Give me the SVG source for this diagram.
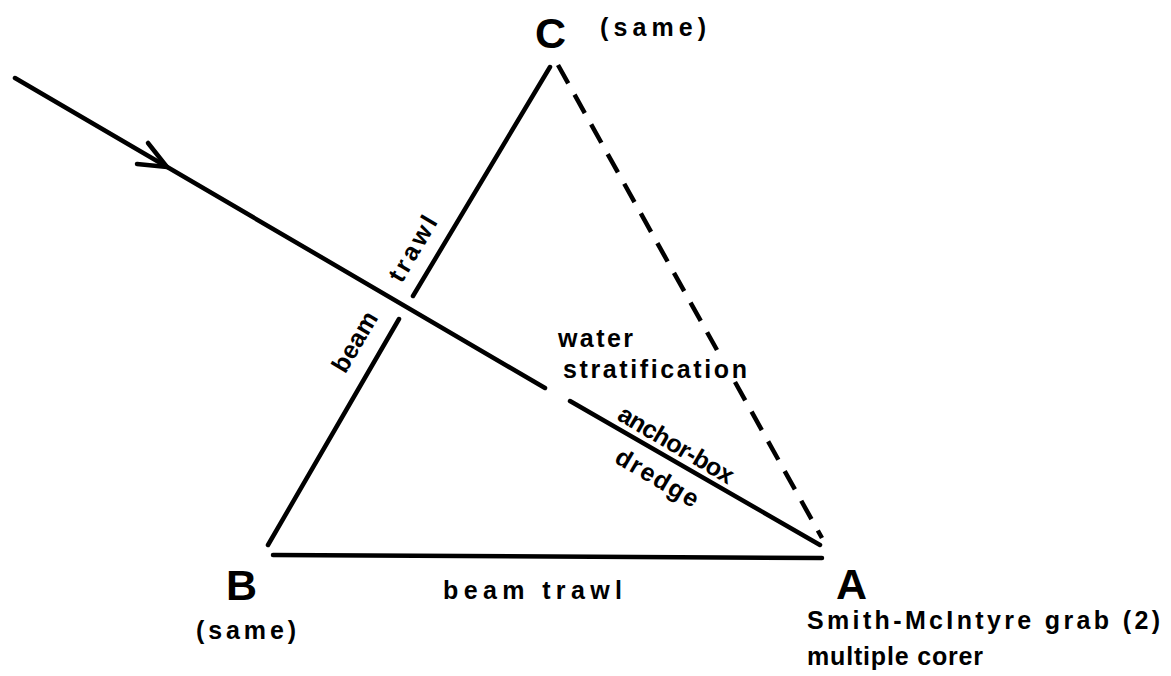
<svg xmlns="http://www.w3.org/2000/svg" width="1171" height="676" viewBox="0 0 1171 676">
<style>
.ln{stroke:#000;stroke-width:4.5;stroke-linecap:round;fill:none}
.dash{stroke:#000;stroke-width:4.5;stroke-dasharray:21 13;fill:none}
.cap{font-family:"Liberation Sans",Arial,sans-serif;font-weight:bold;font-size:43px;fill:#000}
.lbl{font-family:"Liberation Sans",Arial,sans-serif;font-weight:bold;font-size:25px;fill:#000}
</style>
<rect width="1171" height="676" fill="#fff"/>
<g id="connectors">
  <path class="ln" d="M15,78 L545,388"/>
  <path class="ln" d="M570,401 L820,545"/>
  <path class="ln" d="M148,143 L167,167 L137,164"/>
  <path class="ln" d="M550,67 L413,296"/>
  <path class="ln" d="M399,319 L268,545"/>
  <path class="ln" d="M273,555 L822,558"/>
  <path class="dash" d="M558,65 L717,350"/>
  <path class="dash" d="M735,382 L822,538"/>
</g>
<g id="node-C">
  <text class="cap" x="535" y="48">C</text>
  <text class="lbl" x="600" y="36" textLength="106" lengthAdjust="spacing">(same)</text>
</g>
<g id="node-B">
  <text class="cap" x="226" y="600">B</text>
  <text class="lbl" x="196" y="639" textLength="100" lengthAdjust="spacing">(same)</text>
</g>
<g id="node-A">
  <text class="cap" x="836" y="599">A</text>
  <text class="lbl" x="807" y="629" textLength="353" lengthAdjust="spacing">Smith-McIntyre grab (2)</text>
  <text class="lbl" x="807" y="665" textLength="176" lengthAdjust="spacing">multiple corer</text>
</g>
<g id="labels">
  <text class="lbl" x="443" y="599" textLength="179" lengthAdjust="spacing">beam trawl</text>
  <text class="lbl" x="558" y="347" textLength="75" lengthAdjust="spacing">water</text>
  <text class="lbl" x="563" y="378" textLength="184" lengthAdjust="spacing">stratification</text>
  <text class="lbl" text-anchor="middle" transform="translate(672,452) rotate(30.4)" textLength="130" lengthAdjust="spacing">anchor-box</text>
  <text class="lbl" text-anchor="middle" transform="translate(653,485) rotate(30.4)" textLength="92" lengthAdjust="spacing">dredge</text>
  <text class="lbl" text-anchor="middle" transform="translate(362,346) rotate(-59.5)" textLength="66" lengthAdjust="spacing">beam</text>
  <text class="lbl" text-anchor="middle" transform="translate(420,253) rotate(-59.5)" textLength="72" lengthAdjust="spacing">trawl</text>
</g>
</svg>
